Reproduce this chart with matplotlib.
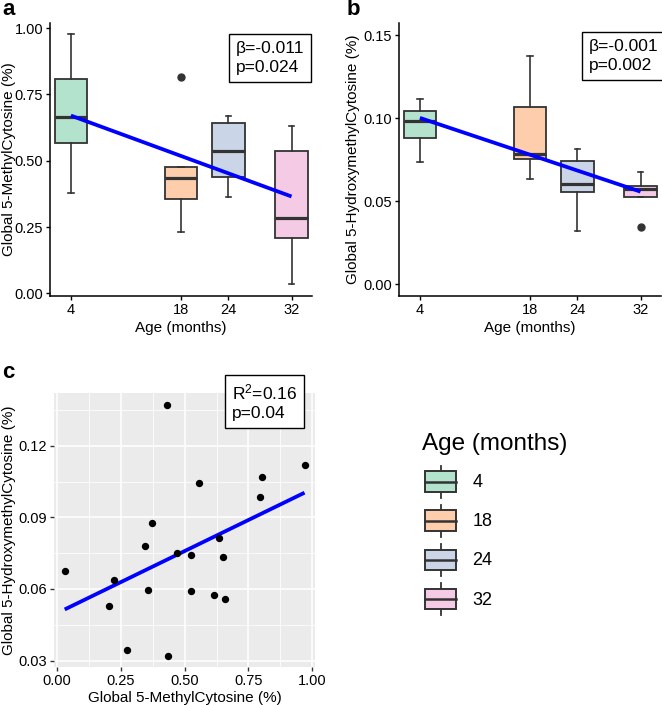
"""
Age vs global 5mC / 5hmC: two boxplot panels with linear trend, one scatter panel, shared legend.
"""
import numpy as np
import matplotlib
matplotlib.use('Agg')
import matplotlib.pyplot as plt
from matplotlib.patches import Rectangle, Patch
from matplotlib.lines import Line2D
from matplotlib.legend_handler import HandlerBase

plt.rcParams['font.family'] = ['Liberation Sans', 'DejaVu Sans']
plt.rcParams['mathtext.default'] = 'regular'

# ---- data ----
ages = [4, 18, 24, 32]
age_labels = ['4', '18', '24', '32']
colors = ['#B3E2CD', '#FDCDAC', '#CBD5E8', '#F4CAE4']

# panel a: global 5mC (%)
mc_whislo = [0.380, 0.230, 0.362, 0.034]
mc_q1 = [0.566, 0.355, 0.440, 0.210]
mc_med = [0.664, 0.434, 0.535, 0.283]
mc_q3 = [0.809, 0.478, 0.642, 0.535]
mc_whishi = [0.977, 0.478, 0.667, 0.629]
mc_fliers = [[], [0.815], [], []]
mc_fit = [0.7136, -0.01089]  # intercept, slope

# panel b: global 5hmC (%)
hmc_whislo = [0.0734, 0.0636, 0.0321, 0.0527]
hmc_q1 = [0.0882, 0.0754, 0.0557, 0.0527]
hmc_med = [0.0985, 0.0784, 0.0604, 0.0575]
hmc_q3 = [0.1045, 0.1069, 0.0744, 0.0592]
hmc_whishi = [0.1119, 0.1376, 0.0816, 0.0678]
hmc_fliers = [[], [], [], [0.0343]]
hmc_fit = [0.1066, -0.001586]

# panel c: per-sample pairs
mc_vals = [0.030, 0.204, 0.225, 0.275, 0.346, 0.356, 0.373, 0.429, 0.433, 0.471,
           0.525, 0.525, 0.557, 0.617, 0.633, 0.652, 0.658, 0.795, 0.805, 0.970]
hmc_vals = [0.0677, 0.0530, 0.0636, 0.0346, 0.0780, 0.0595, 0.0878, 0.1371, 0.0321, 0.0752,
            0.0742, 0.0591, 0.1043, 0.0574, 0.0812, 0.0735, 0.0559, 0.0985, 0.1067, 0.1118]

EDGE = '#333333'
BLUE = '#0000FF'
W, H = 662, 705


def px_axes(fig, left, top, right, bottom):
    return fig.add_axes([left / W, 1 - bottom / H, (right - left) / W, (bottom - top) / H])


def draw_box(ax, whislo, q1, med, q3, whishi, fliers, fit, ylim, yticks, ylabel, ann):
    stats = [dict(whislo=a, q1=b, med=c, q3=d, whishi=e, fliers=f)
             for a, b, c, d, e, f in zip(whislo, q1, med, q3, whishi, fliers)]
    bp = ax.bxp(stats, positions=ages, widths=4.1, patch_artist=True, manage_ticks=False,
                capwidths=0.7,
                boxprops=dict(edgecolor=EDGE, linewidth=1.3),
                medianprops=dict(color=EDGE, linewidth=2.3),
                whiskerprops=dict(color=EDGE, linewidth=1.2),
                capprops=dict(color=EDGE, linewidth=1.2),
                flierprops=dict(marker='o', markerfacecolor=EDGE, markeredgecolor=EDGE, markersize=5))
    for patch, c in zip(bp['boxes'], colors):
        patch.set_facecolor(c)
    xs = np.array([ages[0], ages[-1]])
    ax.plot(xs, fit[0] + fit[1] * xs, color=BLUE, lw=2.7, solid_capstyle='butt', zorder=5)
    ax.set_xlim(1.35, 34.6)
    ax.set_ylim(*ylim)
    ax.set_xticks(ages)
    ax.set_xticklabels(age_labels)
    ax.set_yticks(yticks)
    ax.set_yticklabels([f'{t:.2f}' for t in yticks])
    for s in ['top', 'right']:
        ax.spines[s].set_visible(False)
    for s in ['left', 'bottom']:
        ax.spines[s].set_linewidth(1.1)
    ax.tick_params(length=3, width=1.0, pad=2, labelsize=10.5, colors='black')
    ax.set_xlabel('Age (months)', fontsize=11)
    ax.set_ylabel(ylabel, fontsize=11)
    ax.xaxis.set_label_coords(0.5, -0.093)
    ax.text(ann[0], ann[1], ann[2], transform=ax.transAxes, ha='right', va='top', fontsize=12.5,
            linespacing=1.3, multialignment='left',
            bbox=dict(boxstyle='square,pad=0.4', fc='white', ec='black', lw=1.0))


fig = plt.figure(figsize=(W / 100, H / 100), dpi=100)

# (a)
ax_a = px_axes(fig, 50, 23, 312, 296)
draw_box(ax_a, mc_whislo, mc_q1, mc_med, mc_q3, mc_whishi, mc_fliers, mc_fit,
         (-0.010, 1.019), [0, 0.25, 0.5, 0.75, 1.0], 'Global 5-MethylCytosine (%)',
         (0.971, 0.933, 'β=-0.011\np=0.024'))
ax_a.yaxis.set_label_coords(-0.13, 0.5)

# (b)
ax_b = px_axes(fig, 399, 23, 661, 296)
draw_box(ax_b, hmc_whislo, hmc_q1, hmc_med, hmc_q3, hmc_whishi, hmc_fliers, hmc_fit,
         (-0.007, 0.1574), [0, 0.05, 0.10, 0.15], 'Global 5-HydroxymethylCytosine (%)',
         (0.99, 0.94, 'β=-0.001\np=0.002'))
ax_b.yaxis.set_label_coords(-0.148, 0.5)

# (c)
ax_c = px_axes(fig, 54, 393, 315, 667)
ax_c.set_facecolor('#EBEBEB')
for s in ax_c.spines.values():
    s.set_visible(False)
ax_c.set_xlim(-0.012, 1.011)
ax_c.set_ylim(0.0273, 0.1421)
ax_c.set_xticks([0, 0.25, 0.5, 0.75, 1.0])
ax_c.set_xticklabels(['0.00', '0.25', '0.50', '0.75', '1.00'])
ax_c.set_yticks([0.03, 0.06, 0.09, 0.12])
ax_c.set_yticklabels(['0.03', '0.06', '0.09', '0.12'])
ax_c.set_xticks([0.125, 0.375, 0.625, 0.875], minor=True)
ax_c.set_yticks([0.045, 0.075, 0.105, 0.135], minor=True)
ax_c.grid(which='major', color='white', lw=1.1)
ax_c.grid(which='minor', color='white', lw=0.55)
ax_c.set_axisbelow(True)
ax_c.tick_params(which='major', length=3, width=1.0, pad=2, labelsize=10.5, color=EDGE, labelcolor='black')
ax_c.tick_params(which='minor', length=0)
mx = np.array(mc_vals)
hy = np.array(hmc_vals)
slope, icpt = np.polyfit(mx, hy, 1)
xs = np.array([mx.min(), mx.max()])
ax_c.plot(xs, icpt + slope * xs, color=BLUE, lw=2.7, solid_capstyle='butt', zorder=3)
ax_c.scatter(mx, hy, s=28, color='black', zorder=4, linewidths=0)
ax_c.set_xlabel('Global 5-MethylCytosine (%)', fontsize=11)
ax_c.set_ylabel('Global 5-HydroxymethylCytosine (%)', fontsize=11)
ax_c.xaxis.set_label_coords(0.5, -0.088)
ax_c.yaxis.set_label_coords(-0.146, 0.5)
ax_c.text(0.933, 1.039, 'R$^2$=0.16\np=0.04', transform=ax_c.transAxes, ha='right', va='top',
          fontsize=12.5, linespacing=1.3, multialignment='left', clip_on=False,
          bbox=dict(boxstyle='square,pad=0.4', fc='white', ec='black', lw=1.0))

# panel letters
fig.text(2 / W, 1 - 15 / H, 'a', fontsize=16, fontweight='bold', va='baseline')
fig.text(347 / W, 1 - 15 / H, 'b', fontsize=16, fontweight='bold', va='baseline')
fig.text(2 / W, 1 - 378 / H, 'c', fontsize=16, fontweight='bold', va='baseline')


# legend with mini boxplot keys
class BoxHandler(HandlerBase):
    def create_artists(self, legend, orig_handle, xdescent, ydescent, width, height, fontsize, trans):
        x0, y0 = -xdescent, -ydescent
        bh = height * 0.64
        by = y0 + (height - bh) / 2
        xm = x0 + width / 2
        rect = Rectangle((x0, by), width, bh, facecolor=orig_handle.get_facecolor(),
                         edgecolor=EDGE, lw=1.4, transform=trans)
        med = Line2D([x0, x0 + width], [y0 + height / 2] * 2, color=EDGE, lw=1.8, transform=trans)
        w1 = Line2D([xm, xm], [y0, by], color=EDGE, lw=1.3, transform=trans)
        w2 = Line2D([xm, xm], [by + bh, y0 + height], color=EDGE, lw=1.3, transform=trans)
        return [w1, w2, rect, med]


fig.text(422 / W, 1 - 450 / H, 'Age (months)', fontsize=17.5, va='baseline', ha='left')
handles = [Patch(facecolor=c) for c in colors]
leg = fig.legend(handles, age_labels, loc='upper left',
                 bbox_to_anchor=(425.5 / W, 1 - 465.5 / H), frameon=False, fontsize=13,
                 handler_map={Patch: BoxHandler()},
                 handlelength=1.68, handleheight=2.36, labelspacing=0.39, handletextpad=0.93,
                 borderpad=0, borderaxespad=0)

fig.savefig('out.png', dpi=100)
